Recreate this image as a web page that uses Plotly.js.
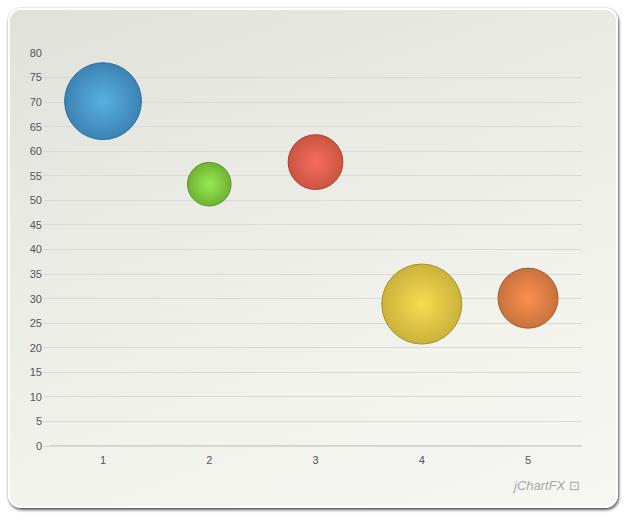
<!DOCTYPE html>
<html>
<head>
<meta charset="utf-8">
<script src="https://cdn.plot.ly/plotly-3.0.1.min.js"></script>
<style>
html,body{margin:0;padding:0;background:#ffffff;width:630px;height:525px;overflow:hidden;}
#panel{position:absolute;left:8px;top:8px;width:606px;height:496px;border-radius:13px;border:2px solid #ffffff;
 box-shadow:1px 2px 3px rgba(0,0,0,0.65), 0 0 2px rgba(0,0,0,0.25);
 background:linear-gradient(160deg,#e1e1dc 0%,#ebebe6 35%,#f3f3ee 70%,#f6f6f2 100%);}
#chart{position:absolute;left:0;top:0;width:630px;height:525px;}
</style>
</head>
<body>
<div id="panel"></div>
<div id="chart"></div>
<script>
const categories = [1, 2, 3, 4, 5];
const yValues = [70.2, 53.3, 57.8, 28.9, 30.1];
const bubbleSizes = [59, 19, 30, 64, 36];
const yTicks = [0,5,10,15,20,25,30,35,40,45,50,55,60,65,70,75,80];

const edgeColors = ['#3b84b4','#6fb332','#cc5442','#cbb23b','#c9723d'];
const centerColors = ['#58b0e2','#98ea52','#f66d5c','#f8dc50','#fd904f'];
const lineColors = ['#2f6d96','#5a9628','#a8412f','#a6902a','#a65b2c'];

const traces = categories.map((c, i) => ({
  type: 'scatter', mode: 'markers',
  x: [c], y: [yValues[i]],
  marker: {
    size: [bubbleSizes[i]], sizemode: 'area', sizeref: 0.02,
    color: edgeColors[i],
    gradient: {type: 'radial', color: centerColors[i]},
    line: {color: lineColors[i], width: 1},
    opacity: 1
  },
  cliponaxis: false,
  hoverinfo: 'x+y', showlegend: false
}));

const layout = {
  width: 630, height: 525,
  margin: {l: 43, r: 48, t: 53, b: 77},
  paper_bgcolor: 'rgba(0,0,0,0)', plot_bgcolor: 'rgba(0,0,0,0)',
  font: {family: 'Liberation Sans, Arial, sans-serif', size: 11, color: '#555555'},
  xaxis: {
    range: [0.435, 5.508], tickvals: categories, ticktext: categories.map(String),
    showgrid: false, zeroline: false, showline: false, ticks: '',
    ticklabelstandoff: 4,
    tickfont: {size: 11, color: '#555555'}, fixedrange: true
  },
  yaxis: {
    range: [-0.4, 80], tickvals: yTicks, ticktext: yTicks.map(String),
    showgrid: true, gridcolor: '#d9d9d6', gridwidth: 1,
    zeroline: false, showline: false, ticks: '',
    tickfont: {size: 11, color: '#555555'}, fixedrange: true
  },
  shapes: [{
    type: 'line', xref: 'x', yref: 'y', x0: 0.5, x1: 5.5, y0: 0, y1: 0,
    line: {color: '#d2d2cf', width: 2}, layer: 'below'
  }],
  annotations: [{
    xref: 'paper', yref: 'paper', x: 1.0, y: -0.095, xanchor: 'right', yanchor: 'middle',
    text: '<i>jChartFX</i> ⊡', showarrow: false,
    font: {family: 'Liberation Sans, Arial, sans-serif', size: 13, color: '#a8a8a8'}
  }]
};

Plotly.newPlot('chart', traces, layout, {displayModeBar: false, staticPlot: true});
</script>
</body>
</html>
